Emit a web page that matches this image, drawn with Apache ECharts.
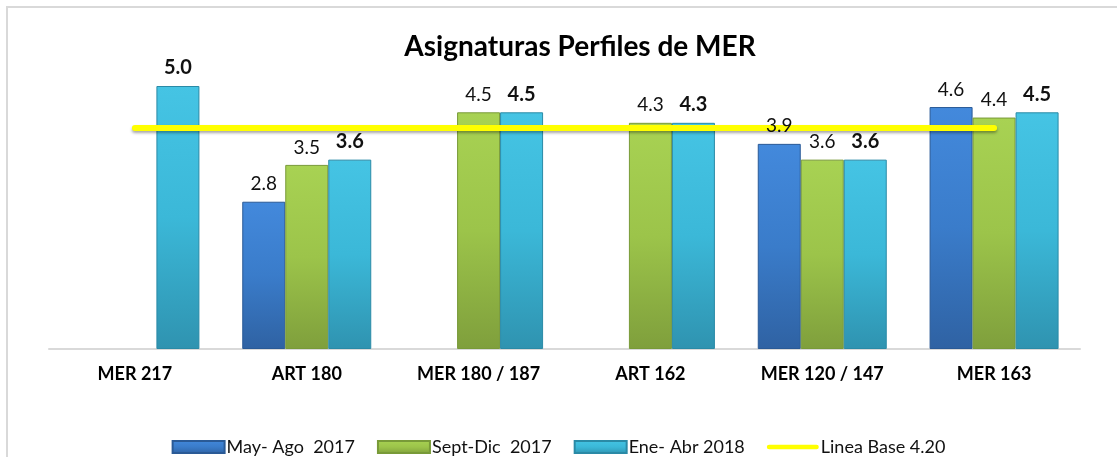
<!DOCTYPE html>
<html>
<head>
<meta charset="utf-8">
<script src="https://cdn.jsdelivr.net/npm/echarts@6/dist/echarts.min.js"></script>
<style>html,body{margin:0;padding:0;background:#fff}#c{width:1117px;height:457px}</style>
</head>
<body>
<div id="c"></div>
<script>
const categories = ['MER 217', 'ART 180', 'MER 180 / 187', 'ART 162', 'MER 120 / 147', 'MER 163'];
const mayAgo2017 = [null, 2.8, null, null, 3.9, 4.6];
const septDic2017 = [null, 3.5, 4.5, 4.3, 3.6, 4.4];
const eneAbr2018 = [5.0, 3.6, 4.5, 4.3, 3.6, 4.5];
const lineaBase = [4.2, 4.2, 4.2, 4.2, 4.2, 4.2];
const seriesNames = ['May- Ago  2017', 'Sept-Dic  2017', 'Ene- Abr 2018', 'Linea Base 4.20'];
const titleText = 'Asignaturas Perfiles de MER';

const FONT = 'Lato';
function grad(top, mid, bottom) {
  return new echarts.graphic.LinearGradient(0, 0, 0, 1, [
    { offset: 0, color: top }, { offset: 0.5, color: mid }, { offset: 1, color: bottom }
  ]);
}
const blueC = grad('#4389dc', '#3a7cca', '#2f62a3');
const greenC = grad('#a8d253', '#9cc44a', '#7f9f3c');
const cyanC = grad('#45c4e4', '#3bb8d8', '#2f93b0');

function barSeries(name, data, color, edge) {
  return {
    name: name, type: 'bar', data: data, barWidth: 43, barGap: '0%', z: 2,
    itemStyle: { color: color, borderColor: edge, borderWidth: 1 }
  };
}
function labelSeries(name, data, bold) {
  return {
    name: name, type: 'bar', data: data, barWidth: 43, barGap: '0%', z: 10,
    xAxisIndex: 1, yAxisIndex: 1, silent: true,
    itemStyle: { color: 'rgba(0,0,0,0)' },
    label: {
      show: true, position: 'top', distance: 8,
      formatter: p => p.value == null ? '' : Number(p.value).toFixed(1),
      fontFamily: FONT, fontSize: bold ? 20 : 19, fontWeight: bold ? 'bold' : 'normal', color: '#111'
    }
  };
}

const chart = echarts.init(document.getElementById('c'), null, { renderer: 'canvas' });
chart.setOption({
  animation: false,
  backgroundColor: '#fff',
  graphic: [{
    type: 'rect', shape: { x: 7, y: 7, width: 1200, height: 500 },
    style: { fill: 'none', stroke: '#d9d9d9', lineWidth: 2 }, silent: true, z: -1
  }],
  title: {
    text: titleText, left: 575, top: 28, textAlign: 'center',
    textStyle: { fontFamily: FONT, fontSize: 28, fontWeight: 'bold', color: '#000' }
  },
  legend: {
    top: 433, left: 'center', itemWidth: 52, itemHeight: 12, itemGap: 22,
    textStyle: { fontFamily: FONT, fontSize: 18, color: '#111', padding: [0, 0, 0, -3] },
    data: [
      { name: seriesNames[0], icon: 'rect' },
      { name: seriesNames[1], icon: 'rect' },
      { name: seriesNames[2], icon: 'rect' },
      { name: seriesNames[3], icon: 'path://M3,0 H64 A3,3 0 0 1 64,6 H3 A3,3 0 0 1 3,0 Z',
        itemStyle: { color: '#ffff00' } }
    ]
  },
  grid: { left: 49, right: 37, top: 86, bottom: 108 },
  xAxis: [{
    type: 'category', data: categories,
    axisLine: { lineStyle: { color: '#d9d9d9', width: 2 } },
    axisTick: { show: false },
    axisLabel: { fontFamily: FONT, fontSize: 18, fontWeight: 'bold', color: '#000', margin: 16 }
  }, {
    type: 'category', data: categories, show: false
  }],
  yAxis: [
    { type: 'value', min: 0, max: 5, show: false, splitLine: { show: false } },
    { type: 'value', min: 0, max: 5, show: false, splitLine: { show: false } }
  ],
  series: [
    barSeries(seriesNames[0], mayAgo2017, blueC, '#2a5a96'),
    barSeries(seriesNames[1], septDic2017, greenC, '#789a38'),
    barSeries(seriesNames[2], eneAbr2018, cyanC, '#2a8aa6'),
    {
      name: seriesNames[3], type: 'line', data: lineaBase, z: 5,
      symbol: 'none', showSymbol: false,
      lineStyle: { color: '#ffff00', width: 6, cap: 'round',
        shadowColor: 'rgba(0,0,0,0.35)', shadowBlur: 3, shadowOffsetY: 2 },
      itemStyle: { color: '#ffff00' }
    },
    labelSeries('lbl-may', mayAgo2017, false),
    labelSeries('lbl-sept', septDic2017, false),
    labelSeries('lbl-ene', eneAbr2018, true)
  ]
});
</script>
</body>
</html>
